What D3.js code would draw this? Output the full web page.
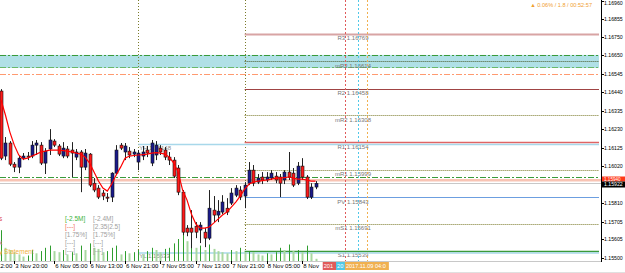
<!DOCTYPE html>
<html><head><meta charset="utf-8">
<script src="https://cdn.jsdelivr.net/npm/d3@7"></script>
<style>html,body{margin:0;padding:0;background:#fff;overflow:hidden}text{font-family:"Liberation Sans",Arial,sans-serif}</style>
</head><body>
<svg id="c" width="625" height="273"></svg>
<script>
// ---------- DATA (EURUSD H1) ----------
const opens  = [1.16446,1.16077,1.16151,1.16031,1.16014,1.16065,1.16077,1.16077,1.16139,1.16139,1.16037,1.16117,1.16162,1.16134,1.16077,1.16117,1.16111,1.16071,1.16100,1.16014,1.16088,1.15923,1.15895,1.15867,1.15844,1.15844,1.15980,1.16139,1.16100,1.16105,1.16088,1.16043,1.16077,1.16111,1.16037,1.16083,1.16122,1.16111,1.16071,1.16054,1.16009,1.15872,1.15668,1.15668,1.15679,1.15657,1.15645,1.15611,1.15770,1.15742,1.15759,1.15781,1.15810,1.15855,1.15884,1.15850,1.15923,1.15997,1.15929,1.15958,1.15941,1.15952,1.15963,1.15958,1.15941,1.15986,1.15980,1.15923,1.16020,1.15958,1.15844,1.15901];
const highs  = [1.16457,1.16185,1.16162,1.16043,1.16077,1.16094,1.16100,1.16162,1.16168,1.16156,1.16122,1.16230,1.16173,1.16145,1.16156,1.16134,1.16156,1.16117,1.16111,1.16117,1.16094,1.15952,1.15912,1.15884,1.15867,1.15985,1.16139,1.16151,1.16151,1.16128,1.16117,1.16111,1.16134,1.16134,1.16168,1.16162,1.16139,1.16128,1.16100,1.16071,1.16026,1.15884,1.15685,1.15770,1.15702,1.15702,1.15668,1.15884,1.15850,1.15827,1.15855,1.15838,1.15895,1.15912,1.15906,1.15929,1.16043,1.16026,1.15975,1.15986,1.15986,1.15997,1.15986,1.15975,1.15997,1.16100,1.16009,1.16043,1.16065,1.15969,1.15923,1.15935];
const lows   = [1.16054,1.16054,1.16020,1.15986,1.15980,1.16054,1.16054,1.16065,1.16083,1.16026,1.15975,1.16083,1.16128,1.16077,1.16065,1.16065,1.15958,1.16054,1.15872,1.15997,1.15901,1.15872,1.15833,1.15827,1.15816,1.15816,1.15969,1.16111,1.16054,1.16065,1.16071,1.15997,1.16054,1.16071,1.16020,1.16054,1.16083,1.16054,1.16026,1.15952,1.15855,1.15628,1.15622,1.15554,1.15611,1.15583,1.15560,1.15600,1.15702,1.15702,1.15747,1.15742,1.15799,1.15844,1.15827,1.15781,1.15912,1.15906,1.15918,1.15918,1.15929,1.15941,1.15923,1.15844,1.15918,1.15941,1.15901,1.15912,1.15941,1.15833,1.15833,1.15889];
const closes = [1.16065,1.16151,1.16031,1.16014,1.16065,1.16077,1.16071,1.16139,1.16151,1.16037,1.16105,1.16168,1.16139,1.16088,1.16122,1.16077,1.16094,1.16100,1.16014,1.16094,1.15912,1.15884,1.15844,1.15850,1.15838,1.15980,1.16111,1.16122,1.16134,1.16083,1.16100,1.16094,1.16100,1.16094,1.16151,1.16139,1.16100,1.16071,1.16054,1.15963,1.15872,1.15645,1.15645,1.15645,1.15645,1.15685,1.15611,1.15781,1.15742,1.15764,1.15816,1.15759,1.15867,1.15895,1.15844,1.15912,1.15997,1.15923,1.15952,1.15941,1.15958,1.15980,1.15941,1.15923,1.15986,1.15958,1.15912,1.16020,1.15958,1.15844,1.15901,1.15922];
const maValues = [1.16395,1.16310,1.16213,1.16139,1.16083,1.16060,1.16065,1.16077,1.16088,1.16100,1.16105,1.16111,1.16111,1.16111,1.16108,1.16105,1.16100,1.16094,1.16088,1.16071,1.16037,1.15986,1.15935,1.15895,1.15878,1.15918,1.15969,1.16014,1.16065,1.16077,1.16080,1.16083,1.16085,1.16088,1.16094,1.16097,1.16094,1.16088,1.16071,1.16037,1.15986,1.15884,1.15827,1.15747,1.15691,1.15668,1.15668,1.15674,1.15696,1.15719,1.15742,1.15759,1.15787,1.15816,1.15850,1.15889,1.15918,1.15929,1.15935,1.15938,1.15941,1.15946,1.15952,1.15952,1.15955,1.15958,1.15952,1.15946,1.15946,1.15941,1.15935,1.15935];
const volumes = [2800,1200,1000,800,600,400,500,1000,700,900,1200,1400,900,800,1000,600,800,700,1400,1000,1600,1200,1100,800,900,1200,1400,600,900,700,800,1000,600,900,1200,1000,800,1100,1200,1600,2000,2600,1800,2200,1200,1400,1000,1500,1100,900,800,700,1000,900,1200,800,900,800,600,500,700,600,800,1200,1000,1500,900,1000,800,1400,700,200];

const priceTicks  = [1.16960,1.16855,1.16750,1.16650,1.16545,1.16440,1.16335,1.16230,1.16125,1.16020,1.15810,1.15705,1.15605,1.15500];
const timeTickIdx = [-5,3,12,20,28,36,44,52,60,68];
const timeTickLabels = ["3 Nov 12:00","3 Nov 20:00","6 Nov 05:00","6 Nov 13:00","6 Nov 21:00","7 Nov 05:00","7 Nov 13:00","7 Nov 21:00","8 Nov 05:00","8 Nov 13:00"];
const daySeparatorIdx = [31,55];

const pivotNames  = ["R3","mR3","R2","mR2","R1","mR1","PV","mS1","S1"];
const pivotValues = [1.16769,1.16614,1.16458,1.16308,1.16154,1.15999,1.15843,1.15691,1.15539];
const pivotStartIdx = 55;
const yesterdayNames  = ["YH","YL"];
const yesterdayValues = [1.16148,1.15533];
const yesterdayStartIdx = 31;
const zoneTop = 1.16651, zoneBottom = 1.16594;
const dashDotValues = [1.16651,1.16583,1.16540,1.15958];
const askPrice = 1.15940, bidPrice = 1.15922;
const vLineIdx = [77.6,80.6,82.6];
const vLineLabels = ["2017.11.08 23:00","2017.11.09 02:00","2017.11.09 04:00"];
const infoLeft  = ["[-2.5M]","[---]","[1.75%]","[---]","[---]"];
const infoRight = ["[-2.4M]","[2.35|2.5]","[1.75%]","[---]","[---]"];
const statusText = "\u25B2 0.06% / 1.8 / 00:52:57";

// ---------- DRAW ----------
const svg = d3.select("#c");
const W = 625, H = 273, axisX = 601, plotBottom = 261;
const x = d3.scaleLinear().domain([0,71]).range([1,315.5]);
const y = d3.scaleLinear().domain([1.16855,1.15500]).range([19,257.7]);
const vol = d3.scaleLinear().domain([0,3000]).range([plotBottom,plotBottom-33]);

svg.append("rect").attr("width",W).attr("height",H).attr("fill","#fff");
const g = svg.append("g");

g.append("rect").attr("x",0).attr("width",599).attr("y",y(zoneTop)).attr("height",y(zoneBottom)-y(zoneTop)+3).attr("fill","#b0e0e6");

function hline(v,x0,color,w,dash){
  g.append("line").attr("x1",x0).attr("x2",599).attr("y1",Math.round(y(v))+0.5).attr("y2",Math.round(y(v))+0.5)
   .attr("stroke",color).attr("stroke-width",w).attr("stroke-dasharray",dash||null);
}
const ddColors = ["#3a9a3a","#6ab86a","#ff9a70","#3a9a3a"];
dashDotValues.forEach((v,i)=>hline(v,0,ddColors[i],1,"6,2,2,2"));
g.append("line").attr("x1",0).attr("x2",axisX).attr("y1",y(askPrice)).attr("y2",y(askPrice)).attr("stroke","#f8c4b4").attr("stroke-width",2.5);
g.append("line").attr("x1",0).attr("x2",axisX).attr("y1",Math.round(y(bidPrice))+0.5).attr("y2",Math.round(y(bidPrice))+0.5).attr("stroke","#c8c8c8").attr("stroke-width",1);

daySeparatorIdx.forEach(i=>{
  g.append("line").attr("x1",Math.round(x(i))+0.5).attr("x2",Math.round(x(i))+0.5).attr("y1",0).attr("y2",plotBottom)
   .attr("stroke","#7a7a2a").attr("stroke-width",1).attr("stroke-dasharray","1,2");
});

const pvStyle = {R3:["#d8a4a4",2,null],mR3:["#4a5a2a",1,"1,1"],R2:["#a04444",1,null],mR2:["#7a7a2a",1,"1,1"],R1:["#e06464",1.5,null],mR1:["#7a7a2a",1,"1,1"],PV:["#6c9ee0",1.2,null],mS1:["#7a7a2a",1,"1,1"],S1:["#3a9a3a",1.5,null]};
pivotValues.forEach((v,k)=>{
  const s = pvStyle[pivotNames[k]];
  hline(v,x(pivotStartIdx),s[0],s[1],s[2]);
  g.append("text").attr("x",353).attr("y",y(v)+6.3).attr("text-anchor","middle").attr("font-size",6).attr("fill","#777").text(pivotNames[k]+" "+v.toFixed(5));
});

const vColors = ["#e05a5a","#50c8e8","#f0b050"];
vLineIdx.forEach((i,k)=>{
  g.append("line").attr("x1",Math.round(x(i))+0.5).attr("x2",Math.round(x(i))+0.5).attr("y1",0).attr("y2",plotBottom)
   .attr("stroke",vColors[k]).attr("stroke-width",1).attr("stroke-dasharray","2,2");
});

yesterdayValues.forEach((v,k)=>{
  g.append("line").attr("x1",x(yesterdayStartIdx)).attr("x2",599).attr("y1",y(v)+1).attr("y2",y(v)+1).attr("stroke","#a8d8ea").attr("stroke-width",1.5);
  g.append("text").attr("x",x(yesterdayStartIdx)+1).attr("y",y(v)+6.5).attr("font-size",6).attr("fill","#888").text(yesterdayNames[k]+" "+v.toFixed(5));
});

volumes.forEach((v,i)=>{
  const up = i===0 || v>volumes[i-1];
  g.append("line").attr("x1",Math.round(x(i))+0.5).attr("x2",Math.round(x(i))+0.5).attr("y1",vol(v)).attr("y2",plotBottom)
   .attr("stroke",up?"#2f9e2f":"#a8d8a0").attr("stroke-width",up?1:2);
});

const infoY = [219,227,235,243,251];
const leftColors = ["#3cb43c","#f07060","#a0a0a0","#a0a0a0","#a0a0a0"];
infoLeft.forEach((t,k)=>g.append("text").attr("x",65).attr("y",infoY[k]+2).attr("font-size",6.5).attr("fill",leftColors[k]).text(t));
infoRight.forEach((t,k)=>g.append("text").attr("x",93).attr("y",infoY[k]+2).attr("font-size",6.5).attr("fill","#a0a0a0").text(t));
g.append("text").attr("x",-1).attr("y",221).attr("font-size",6.5).attr("fill","#e05050").text("s");
g.append("text").attr("x",-1).attr("y",245).attr("font-size",6.5).attr("fill","#d070a0").text("k");
g.append("text").attr("x",-1).attr("y",253.5).attr("font-size",6.5).attr("fill","#f0b040").text("y Statement");

const idx = d3.range(opens.length);
g.selectAll("line.w").data(idx).join("line").attr("class","w")
  .attr("x1",i=>Math.round(x(i))+0.5).attr("x2",i=>Math.round(x(i))+0.5)
  .attr("y1",i=>y(highs[i])).attr("y2",i=>y(lows[i])).attr("stroke","#222").attr("stroke-width",1);
g.selectAll("rect.b").data(idx).join("rect").attr("class","b")
  .attr("x",i=>Math.round(x(i))-1).attr("width",3)
  .attr("y",i=>y(Math.max(opens[i],closes[i])))
  .attr("height",i=>Math.max(1,Math.abs(y(opens[i])-y(closes[i]))))
  .attr("fill",i=>closes[i]>=opens[i]?"#1a1a8c":"#ff1a1a").attr("stroke","#111").attr("stroke-width",0.6);

g.append("path").datum(maValues).attr("fill","none").attr("stroke","#ff0000").attr("stroke-width",1.2)
  .attr("d",d3.line().x((d,i)=>x(i)).y(d=>y(d)));

g.append("text").attr("x",592).attr("y",7).attr("text-anchor","end").attr("font-size",5.6).attr("fill","#f0a030").text(statusText);

// frame / right axis
svg.append("line").attr("x1",0).attr("x2",axisX).attr("y1",plotBottom+0.5).attr("y2",plotBottom+0.5).attr("stroke","#c8c8c8");
svg.append("line").attr("x1",axisX+0.5).attr("x2",axisX+0.5).attr("y1",0).attr("y2",plotBottom+1).attr("stroke","#000");
priceTicks.forEach(v=>{
  svg.append("line").attr("x1",axisX).attr("x2",axisX+3).attr("y1",Math.round(y(v))+0.5).attr("y2",Math.round(y(v))+0.5).attr("stroke","#000");
  svg.append("text").attr("x",604).attr("y",Math.max(4.5,y(v)+2)).attr("font-size",5.2).attr("fill","#000").text(v.toFixed(5));
});
// ask box above, bid box below (stacked like the terminal does)
const bidTop = Math.round(y(bidPrice)) - 1.5;
svg.append("rect").attr("x",axisX+1).attr("y",bidTop-5).attr("width",24).attr("height",5).attr("fill","#ff3a1a");
svg.append("text").attr("x",604).attr("y",bidTop-0.9).attr("font-size",4.6).attr("fill","#fff").text(askPrice.toFixed(5));
svg.append("rect").attr("x",axisX+1).attr("y",bidTop).attr("width",24).attr("height",6).attr("fill","#000");
svg.append("text").attr("x",604).attr("y",bidTop+4.8).attr("font-size",5.2).attr("fill","#fff").text(bidPrice.toFixed(5));

// time axis
const boxW = 44;
const boxStarts = vLineIdx.map(i=>x(i)-boxW/2);
timeTickIdx.forEach((i,k)=>{
  svg.append("line").attr("x1",Math.round(x(i))+0.5).attr("x2",Math.round(x(i))+0.5).attr("y1",plotBottom).attr("y2",plotBottom+3).attr("stroke","#000");
  const t = svg.append("text").attr("x",x(i)+1).attr("y",268).attr("font-size",6).attr("fill","#000");
  let s = timeTickLabels[k];
  t.text(s);
  // the label under the time-line boxes is hidden where the boxes start
  while (s.length>0 && x(i)+1+t.node().getComputedTextLength() > boxStarts[0]) { s = s.slice(0,-1); t.text(s); }
});
vLineIdx.forEach((i,k)=>{
  const x0 = boxStarts[k];
  const visibleEnd = k<vLineIdx.length-1 ? boxStarts[k+1] : x0+boxW;
  svg.append("rect").attr("x",x0).attr("y",262).attr("width",boxW).attr("height",8).attr("fill",vColors[k]);
  const t = svg.append("text").attr("x",x0+1).attr("y",268).attr("font-size",5.6).attr("fill","#fff");
  let s = vLineLabels[k];
  t.text(s);
  while (s.length>0 && t.node().getComputedTextLength() > visibleEnd-x0-2) { s = s.slice(0,-1); t.text(s); }
});
svg.append("line").attr("x1",0).attr("x2",W).attr("y1",272.5).attr("y2",272.5).attr("stroke","#e0e0e0");
</script>
</body></html>
